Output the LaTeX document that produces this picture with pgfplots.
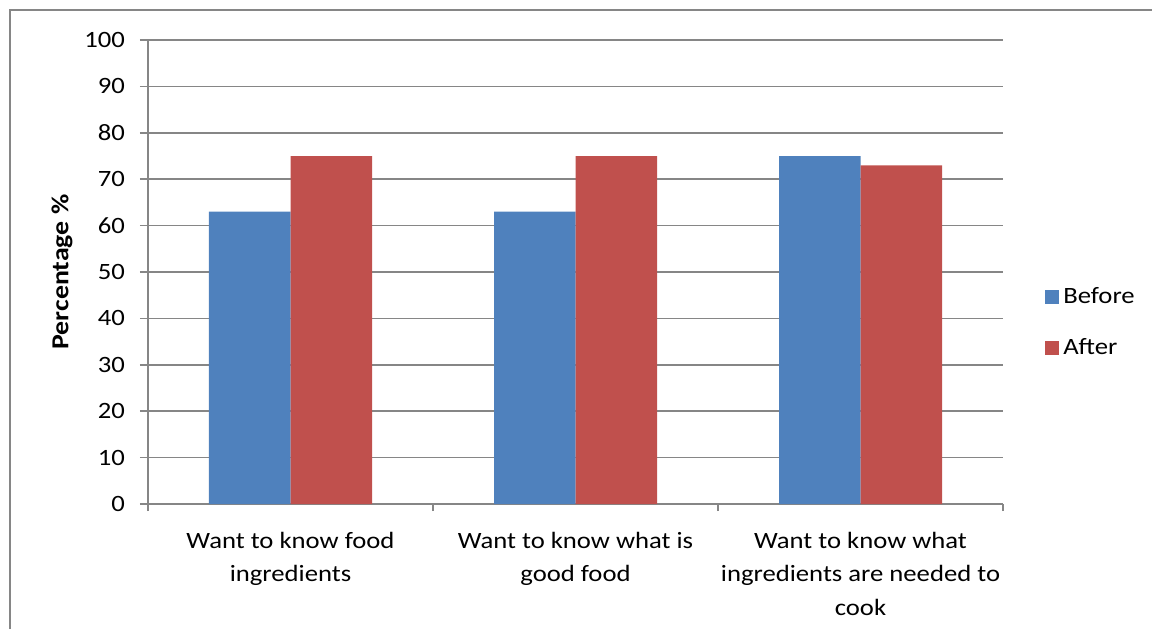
\documentclass[border=0pt]{standalone}
\usepackage{fontspec}
\setmainfont{Carlito}[FakeStretch=1.14]
\usepackage{pgfplots}
\pgfplotsset{compat=1.18}
\definecolor{xblue}{HTML}{4F81BD}
\definecolor{xred}{HTML}{C0504D}
\definecolor{xgray}{HTML}{868686}
\begin{document}
\begin{tikzpicture}
\path[use as bounding box] (0,0) rectangle (576pt,314.5pt);
\draw[xgray, line width=0.75pt] (5pt,0) -- (5pt,309.5pt) -- (576pt,309.5pt);
\begin{axis}[
  at={(74pt,62.5pt)}, anchor=south west,
  scale only axis, width=427.5pt, height=232pt,
  ybar=0pt, bar width=40.75pt,
  xmin=-0.5, xmax=2.5, ymin=0, ymax=100,
  axis x line*=bottom, axis y line*=left,
  axis line style={xgray, line width=0.75pt},
  ytick={0,10,...,100},
  ymajorgrids, grid style={xgray, line width=0.75pt},
  ytick align=outside, ytick style={xgray, line width=0.75pt},
  major tick length=4pt,
  xtick={0,1,2},
  xticklabels={{Want to know food\\ingredients},{Want to know what is\\good food},{Want to know what\\ingredients are needed to\\cook}},
  x tick label style={align=center, font=\fontsize{11.7}{16.75}\selectfont, text depth=0pt, yshift=-6.5pt},
  xtick style={draw=none},
  extra x ticks={-0.5,0.5,1.5,2.5},
  extra x tick labels={},
  extra x tick style={xtick style={draw=xgray, line width=0.75pt}, tick align=outside, major tick length=3.5pt, grid=none},
  y tick label style={font=\fontsize{11.7}{14}\selectfont, xshift=-4pt},
  /pgf/number format/assume math mode=true,
  ylabel={\textbf{Percentage \%}},
  ylabel style={font=\fontsize{12.2}{14}\selectfont, at={(axis description cs:-0.1006,0.5)}, anchor=center, rotate=0},
  legend style={at={(1.049,0.391)}, anchor=west, draw=none, fill=none, inner sep=0pt,
    font=\fontsize{11.7}{14}\selectfont, row sep=12pt,
    /tikz/every even column/.append style={column sep=5pt}},
  legend cell align=left,
  legend image code/.code={\fill[#1, draw=none] (0pt,-3.5pt) rectangle (7pt,3.5pt);},
]
\addplot[fill=xblue, draw=none] coordinates {(0,63) (1,63) (2,75)};
\addplot[fill=xred, draw=none] coordinates {(0,75) (1,75) (2,73)};
\legend{Before,After}
\end{axis}
\end{tikzpicture}
\end{document}
